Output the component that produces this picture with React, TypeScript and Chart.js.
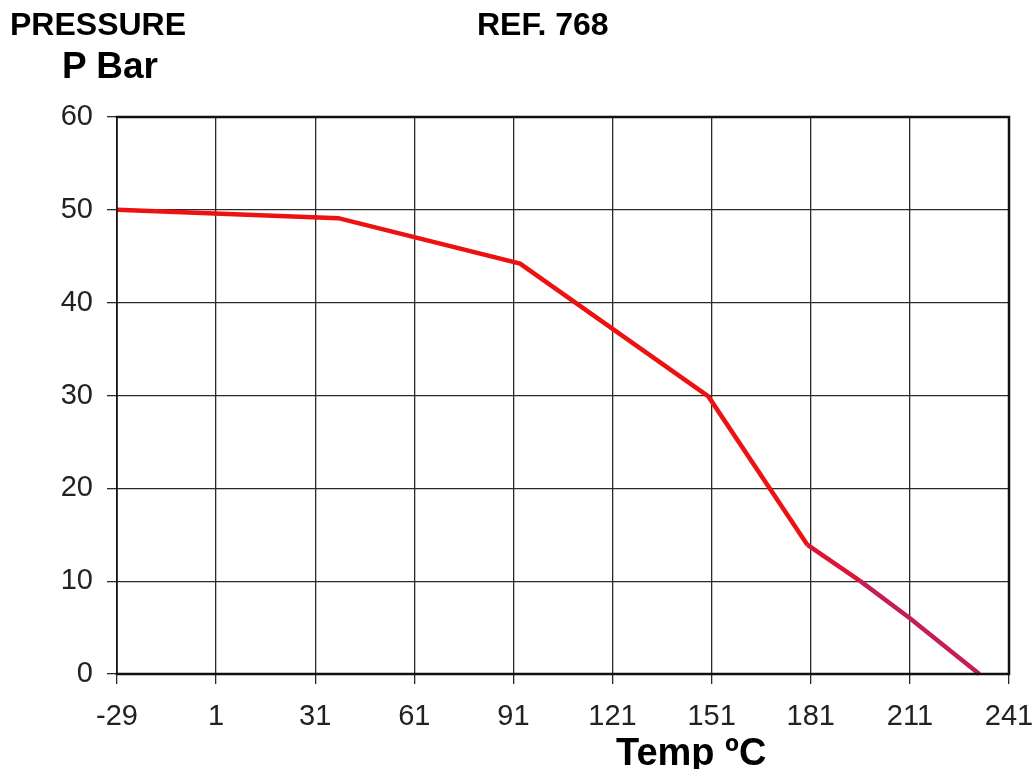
import React, { useEffect, useRef } from "react";
import { Chart, registerables } from "chart.js";

Chart.register(...registerables);

const tempValues = [-29, 38, 93, 150, 180, 196, 211, 232];
const pressureValues = [50, 49.1, 44.2, 29.9, 13.9, 10, 6, 0];
const xTicks = [-29, 1, 31, 61, 91, 121, 151, 181, 211, 241];
const yTicks = [0, 10, 20, 30, 40, 50, 60];

const FONT = "'Liberation Sans', Arial, Helvetica, sans-serif";

const framePlugin = {
  id: "frame",
  afterDatasetsDraw(chart: any) {
    const { ctx, chartArea: a } = chart;
    ctx.save();
    ctx.strokeStyle = "#111";
    ctx.lineCap = "square";
    ctx.lineWidth = 2.5;
    ctx.beginPath();
    ctx.moveTo(a.left, a.top);
    ctx.lineTo(a.right, a.top);
    ctx.lineTo(a.right, a.bottom);
    ctx.lineTo(a.left, a.bottom);
    ctx.stroke();
    ctx.lineWidth = 1.5;
    ctx.beginPath();
    ctx.moveTo(a.left, a.top);
    ctx.lineTo(a.left, a.bottom);
    ctx.stroke();
    ctx.restore();
  },
};

export default function App() {
  const ref = useRef<HTMLCanvasElement | null>(null);

  useEffect(() => {
    if (!ref.current) return;
    const data = tempValues.map((x, i) => ({ x, y: pressureValues[i] }));
    const chart = new Chart(ref.current, {
      type: "line",
      data: {
        datasets: [
          {
            data,
            borderColor: "#ee1111",
            borderWidth: 4.5,
            pointRadius: 0,
            tension: 0,
            clip: false as any,
            segment: {
              borderColor: (c: any) => (c.p0.parsed.x >= 196 ? "#c41e5a" : c.p0.parsed.x >= 180 ? "#dc1438" : "#ee1111"),
            },
          },
        ],
      },
      plugins: [framePlugin],
      options: {
        animation: false,
        responsive: false,
        maintainAspectRatio: false,
        layout: { padding: { top: 117, right: 25, left: 0, bottom: 0 } },
        plugins: { legend: { display: false }, tooltip: { enabled: false }, title: { display: false } },
        scales: {
          x: {
            type: "linear",
            min: -29,
            max: 241,
            afterBuildTicks: (s: any) => {
              s.ticks = xTicks.map((v) => ({ value: v }));
            },
            afterFit: (s: any) => {
              s.height = 95;
              s.paddingLeft = 0;
              s.paddingRight = 0;
            },
            grid: { color: "#2a2a2a", lineWidth: 1.3, tickLength: 10, drawTicks: true },
            border: { display: false },
            ticks: {
              padding: 16,
              color: "#222",
              font: { family: FONT, size: 29 },
              maxRotation: 0,
              autoSkip: false,
            },
          },
          y: {
            type: "linear",
            min: 0,
            max: 60,
            afterBuildTicks: (s: any) => {
              s.ticks = yTicks.map((v) => ({ value: v }));
            },
            afterFit: (s: any) => {
              s.width = 117;
              s.paddingTop = 0;
              s.paddingBottom = 0;
            },
            grid: { color: "#2a2a2a", lineWidth: 1.3, tickLength: 10, drawTicks: true },
            border: { display: false },
            ticks: {
              padding: 14,
              color: "#222",
              font: { family: FONT, size: 29 },
            },
          },
        },
      },
    });
    return () => chart.destroy();
  }, []);

  const txt: React.CSSProperties = {
    position: "absolute",
    fontFamily: FONT,
    fontWeight: "bold",
    color: "#000",
    whiteSpace: "nowrap",
    lineHeight: 1,
  };

  return (
    <div style={{ position: "absolute", left: 0, top: 0, width: 1034, height: 769, background: "#fff", overflow: "hidden" }}>
      <canvas ref={ref} width={1034} height={769} style={{ position: "absolute", left: 0, top: 0 }} />
      <div style={{ ...txt, left: 10, top: 8, fontSize: 32 }}>PRESSURE</div>
      <div style={{ ...txt, left: 477, top: 8, fontSize: 32 }}>REF. 768</div>
      <div style={{ ...txt, left: 62, top: 47, fontSize: 37 }}>P Bar</div>
      <div style={{ ...txt, left: 616, top: 733, fontSize: 38 }}>Temp ºC</div>
    </div>
  );
}
